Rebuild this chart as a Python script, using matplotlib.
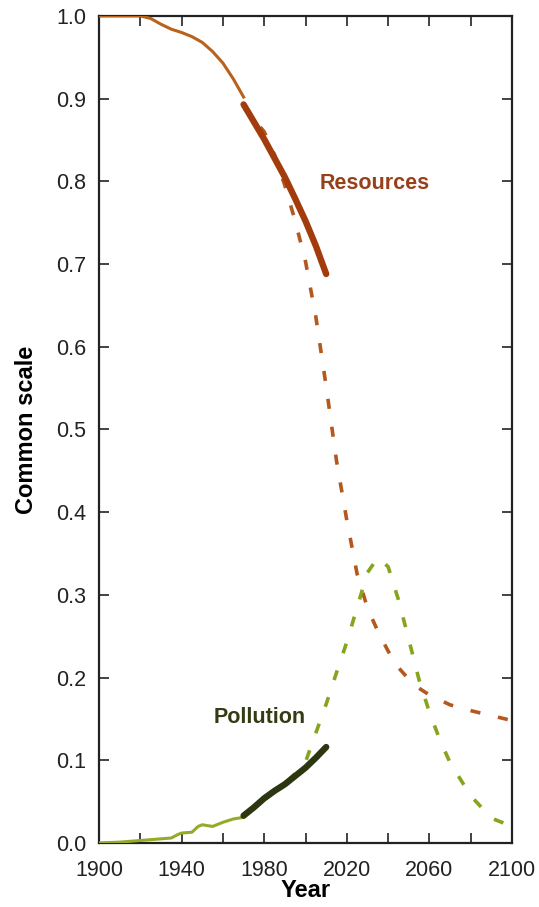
import matplotlib
matplotlib.use("Agg")
import matplotlib.pyplot as plt

plt.rcParams["font.family"] = ["Liberation Sans", "DejaVu Sans"]

# Resources: historical trend (thin), observed data (thick), model run (dashed)
res_hist_year = [1900, 1910, 1920, 1925, 1930, 1935, 1940, 1945, 1950, 1955, 1960, 1965, 1970]
res_hist_val = [1.0, 1.0, 1.0, 0.997, 0.99, 0.984, 0.98, 0.975, 0.968, 0.957, 0.943, 0.924, 0.902]

res_obs_year = [1970, 1975, 1980, 1985, 1990, 1995, 2000, 2005, 2010]
res_obs_val = [0.893, 0.872, 0.851, 0.828, 0.805, 0.779, 0.752, 0.722, 0.688]

res_model_year = [1970, 1975, 1980, 1985, 1990, 1995, 2000, 2005, 2010, 2015, 2020,
                  2025, 2030, 2035, 2040, 2045, 2050, 2055, 2060, 2070, 2080, 2090, 2100]
res_model_val = [0.893, 0.875, 0.86, 0.832, 0.795, 0.752, 0.703, 0.636, 0.552, 0.462, 0.39,
                 0.325, 0.284, 0.256, 0.232, 0.212, 0.198, 0.187, 0.179, 0.167, 0.16, 0.154, 0.148]

# Pollution
pol_hist_year = [1900, 1910, 1920, 1930, 1935, 1938, 1940, 1945, 1948, 1950, 1955, 1960, 1965, 1970]
pol_hist_val = [0.0, 0.001, 0.003, 0.005, 0.006, 0.01, 0.012, 0.013, 0.02, 0.022, 0.02, 0.025, 0.029, 0.031]

pol_obs_year = [1970, 1975, 1980, 1985, 1990, 1995, 2000, 2005, 2010]
pol_obs_val = [0.033, 0.043, 0.054, 0.063, 0.071, 0.081, 0.091, 0.103, 0.116]

pol_model_year = [1970, 1980, 1990, 1995, 2000, 2005, 2010, 2015, 2020, 2025, 2030,
                  2035, 2040, 2045, 2050, 2055, 2060, 2065, 2070, 2080, 2090, 2100]
pol_model_val = [0.033, 0.052, 0.072, 0.084, 0.098, 0.133, 0.168, 0.206, 0.243, 0.285, 0.327,
                 0.345, 0.334, 0.294, 0.246, 0.197, 0.158, 0.125, 0.097, 0.057, 0.03, 0.02]

fig = plt.figure(figsize=(5.39, 9.07), dpi=100)
ax = fig.add_axes([0.1837, 0.0706, 0.7663, 0.9118])

dash = (0, (2.8, 5.0))
ax.plot(res_model_year, res_model_val, color="#b4581e", lw=2.6, ls=dash, zorder=2)
ax.plot(res_hist_year, res_hist_val, color="#b8621c", lw=2.2, zorder=3)
ax.plot(res_obs_year, res_obs_val, color="#a33c0c", lw=4.6, solid_capstyle="round", zorder=4)

ax.plot(pol_model_year, pol_model_val, color="#86a41e", lw=2.6, ls=dash, zorder=2)
ax.plot(pol_hist_year, pol_hist_val, color="#96aa28", lw=2.2, zorder=3)
ax.plot(pol_obs_year, pol_obs_val, color="#2c3610", lw=4.6, solid_capstyle="round", zorder=4)

ax.text(2007, 0.797, "Resources", color="#98401a", fontsize=15.5, fontweight="bold",
        ha="left", va="center")
ax.text(1978, 0.152, "Pollution", color="#343c14", fontsize=15.5, fontweight="bold",
        ha="center", va="center")

ax.set_xlim(1900, 2100)
ax.set_ylim(0.0, 1.0)
ax.set_xticks(range(1900, 2101, 40))
ax.set_xticks(range(1900, 2101, 20), minor=True)
ax.set_yticks([i / 10 for i in range(11)])
ax.set_yticklabels([f"{i / 10:.1f}" for i in range(11)])
ax.tick_params(axis="both", which="both", direction="in", top=True, right=True,
               length=7, width=1.2, labelsize=15.5, colors="#222222")
ax.tick_params(axis="x", which="major", pad=12)
ax.tick_params(axis="y", which="major", pad=9)
for spine in ax.spines.values():
    spine.set_linewidth(1.6)
    spine.set_color("#222222")

ax.set_xlabel("Year", fontsize=17, fontweight="bold", labelpad=-1)
ax.set_ylabel("Common scale", fontsize=17, fontweight="bold", labelpad=13)

fig.savefig("out.png", dpi=100)
